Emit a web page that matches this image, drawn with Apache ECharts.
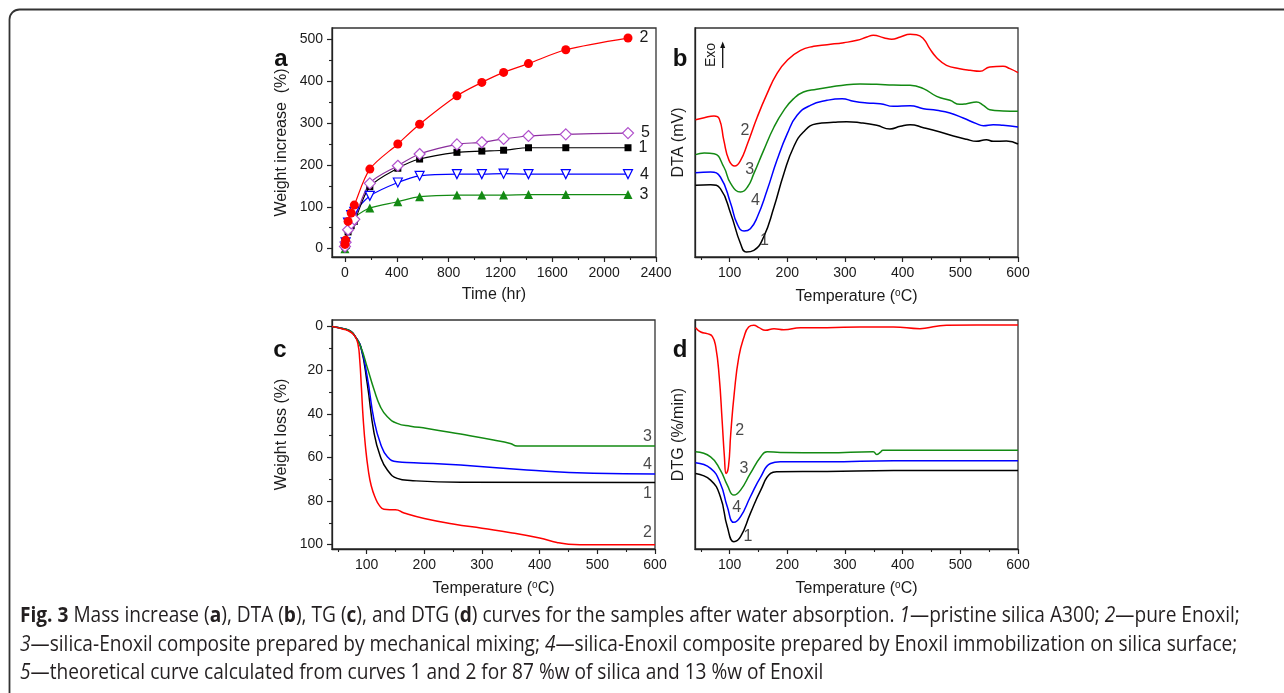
<!DOCTYPE html>
<html><head><meta charset="utf-8">
<script src="https://cdn.jsdelivr.net/npm/echarts@6/dist/echarts.min.js"></script>
<style>html,body{margin:0;padding:0;background:#fff}#c{width:1284px;height:693px}</style>
</head><body><div id="c"></div>
<script>
// ---------- Panel a: weight increase vs time ----------
const timeHr = [0, 5, 24, 48, 72, 192, 408, 576, 864, 1056, 1224, 1416, 1704, 2184];
const wi1 = [5, 15, 40, 55, 65, 148, 192, 214, 230, 233, 235, 241, 241, 241];
const wi2 = [10, 20, 65, 85, 104, 190, 250, 297, 365, 397, 421, 442, 475, 503];
const wi3 = [0, 10, 50, 65, 75, 97, 112, 124, 128, 128, 128, 129, 129, 129];
const wi4 = [5, 15, 62, 80, 88, 126, 158, 174, 178, 178, 179, 178, 178, 178];
const wi5 = [5, 15, 45, 60, 70, 156, 198, 226, 249, 254, 262, 269, 273, 276];
const aXTicks = [0, 400, 800, 1200, 1600, 2000, 2400];
const aYTicks = [0, 100, 200, 300, 400, 500];

// ---------- Panel b: DTA (arbitrary mV) ----------
const dtaT1 = [41, 67, 84, 102, 119, 129, 142, 159, 177, 194, 211, 228, 251, 280, 303, 326, 355, 378, 396, 413, 436, 465, 488, 511, 528, 545, 557, 580, 600];
const dta1 = [2.15, 2.17, 2.05, 1.30, 0.40, 0.15, 0.20, 0.60, 1.50, 2.50, 3.30, 3.75, 4.00, 4.04, 4.06, 4.03, 3.95, 3.84, 3.92, 3.97, 3.88, 3.75, 3.63, 3.53, 3.47, 3.52, 3.47, 3.48, 3.39];
const dtaT2 = [41, 56, 73, 82, 90, 99, 109, 119, 131, 148, 165, 182, 200, 223, 246, 269, 298, 321, 338, 349, 367, 381, 396, 413, 424, 436, 447, 459, 476, 499, 517, 534, 551, 574, 586, 600];
const dta2 = [4.12, 4.18, 4.23, 4.15, 3.50, 2.90, 2.73, 2.90, 3.40, 4.20, 4.90, 5.50, 5.90, 6.20, 6.32, 6.37, 6.43, 6.50, 6.60, 6.65, 6.58, 6.53, 6.60, 6.68, 6.67, 6.55, 6.25, 5.98, 5.75, 5.65, 5.60, 5.57, 5.70, 5.72, 5.65, 5.53];
const dtaT3 = [41, 56, 73, 90, 102, 119, 131, 142, 159, 177, 194, 211, 228, 251, 275, 303, 326, 355, 384, 413, 436, 459, 482, 499, 511, 528, 540, 551, 574, 600];
const dta3 = [3.07, 3.12, 3.10, 2.70, 2.20, 1.95, 2.10, 2.50, 3.20, 3.90, 4.40, 4.75, 4.95, 5.03, 5.10, 5.17, 5.19, 5.18, 5.16, 5.15, 5.05, 4.82, 4.70, 4.58, 4.60, 4.65, 4.55, 4.42, 4.38, 4.37];
const dtaT4 = [41, 67, 84, 102, 113, 125, 136, 148, 165, 182, 200, 217, 240, 269, 295, 315, 338, 361, 384, 413, 436, 459, 482, 505, 528, 540, 557, 574, 600];
const dta4 = [2.53, 2.55, 2.40, 1.60, 1.00, 0.78, 0.85, 1.20, 2.00, 2.90, 3.70, 4.25, 4.55, 4.70, 4.75, 4.67, 4.62, 4.60, 4.52, 4.54, 4.45, 4.40, 4.32, 4.17, 4.00, 3.94, 3.97, 3.95, 3.90];

// ---------- Panel c: TG weight loss (%) ----------
const tgT1 = [40, 60, 72, 80, 90, 101, 113, 124, 136, 153, 176, 263, 600];
const tg1 = [0, 1, 2.1, 4.5, 9.4, 26, 49, 59.7, 65.8, 69.6, 70.6, 71.4, 71.5];
const tgT2 = [40, 60, 72, 80, 85, 88, 91, 94, 98, 103, 108, 115, 122, 130, 140, 150, 165, 200, 250, 300, 350, 400, 430, 450, 470, 600];
const tg2 = [0, 1.2, 2.5, 4.5, 8, 15, 28, 42, 55, 66, 73, 78.5, 82, 83.8, 84, 84, 85.5, 88, 90.5, 92.5, 94.5, 97, 99, 99.8, 100, 100];
const tgT3 = [40, 60, 72, 80, 90, 101, 113, 124, 136, 153, 176, 205, 263, 320, 349, 361, 378, 600];
const tg3 = [0, 1, 2.1, 4.5, 9.4, 18.6, 29, 36.8, 41.4, 44.4, 45.7, 46.7, 49.3, 52, 53.6, 54.8, 54.8, 54.8];
const tgT4 = [40, 60, 72, 80, 90, 101, 113, 124, 136, 153, 182, 263, 378, 493, 600];
const tg4 = [0, 1, 2.1, 4.5, 9.4, 23, 43, 53.6, 59.7, 62, 62.4, 63.5, 65.8, 67.3, 67.6];
const cYTicks = [0, 20, 40, 60, 80, 100];

// ---------- Panel d: DTG (arbitrary %/min) ----------
const dtgT1 = [41, 67, 84, 96, 107.5, 119, 136, 154, 171, 182, 269, 384, 600];
const dtg1 = [2.27, 2.07, 1.57, 0.67, 0.22, 0.37, 1.07, 1.77, 2.27, 2.32, 2.33, 2.36, 2.36];
const dtgT2 = [41, 50, 61, 70, 76, 82, 87, 91, 94, 98, 102, 108, 116, 125, 133, 142, 151, 162, 177, 194, 223, 269, 326, 384, 430, 459, 476, 528, 600];
const dtg2 = [6.65, 6.52, 6.47, 6.39, 6.07, 5.17, 3.87, 2.77, 2.27, 2.47, 3.47, 4.67, 5.77, 6.37, 6.67, 6.72, 6.65, 6.57, 6.62, 6.59, 6.65, 6.65, 6.67, 6.67, 6.62, 6.69, 6.72, 6.73, 6.73];
const dtgT3 = [41, 67, 84, 96, 107.5, 119, 136, 154, 165, 188, 269, 349, 355, 361, 366, 384, 600];
const dtg3 = [2.92, 2.77, 2.37, 1.92, 1.62, 1.77, 2.27, 2.77, 2.92, 2.90, 2.89, 2.92, 2.84, 2.90, 2.97, 2.97, 2.97];
const dtgT4 = [41, 67, 84, 96, 107.5, 119, 136, 154, 171, 188, 269, 384, 600];
const dtg4 = [2.59, 2.42, 1.97, 1.27, 0.80, 0.97, 1.57, 2.17, 2.57, 2.62, 2.62, 2.65, 2.65];

const tempTicks = [100, 200, 300, 400, 500, 600];
const tempMinor = [50, 150, 250, 350, 450, 550];

// curve number labels (data coordinates of each annotation)
const bLabels = [['2', 126.5, 3.8], ['3', 135, 2.62], ['4', 144.8, 1.7], ['1', 160.4, 0.5]];
const cLabels = [['3', 587, 50.5], ['4', 587, 63.5], ['1', 587, 76.7], ['2', 587, 94.7]];
const dLabels = [['2', 117.3, 3.57], ['3', 124.8, 2.42], ['4', 112.1, 1.24], ['1', 131.7, 0.37]];

const RED = '#ff0000', GREEN = '#138a13', BLUE = '#0000ff', BLACK = '#000000', PURPLE = '#8a2e9c', PINK = '#b050cc';
const FONT = 'Liberation Sans, Arial, sans-serif';
const TXT = '#1a1a1a';

const grids = [
  {left: 332, top: 28, width: 324, height: 229},
  {left: 695, top: 28, width: 323, height: 229},
  {left: 332, top: 320, width: 323, height: 229},
  {left: 695, top: 320, width: 323, height: 229}
].map(g => Object.assign(g, {show: true, borderColor: '#333', borderWidth: 1.3, containLabel: false}));

const xAxes = [], yAxes = [];
function mainAxis(arr, gi, pos, o) {
  arr.push(Object.assign({
    type: 'value', gridIndex: gi, position: pos, splitLine: {show: false},
    axisLine: {show: true, onZero: false, lineStyle: {color: '#222', width: 1.3}},
    axisTick: {show: true, inside: false, length: 5, lineStyle: {color: '#222', width: 1.2}, customValues: o.ticks},
    axisLabel: {show: !!o.ticks, customValues: o.ticks, formatter: v => String(v), color: TXT, fontSize: 14, fontFamily: FONT, margin: 9},
    nameTextStyle: {color: TXT, fontSize: 16, fontFamily: FONT, rich: {sup: {fontSize: 10, verticalAlign: 'top', padding: [0, 0, 8, 0], color: TXT, fontFamily: FONT}}}
  }, o.extra));
  return arr.length - 1;
}
function minorAxis(arr, gi, pos, min, max, vals, extra) {
  arr.push(Object.assign({
    type: 'value', gridIndex: gi, position: pos, offset: 0, min, max, splitLine: {show: false},
    axisLine: {show: false, onZero: false},
    axisTick: {show: true, length: 3, lineStyle: {color: '#222', width: 1.1}, customValues: vals},
    axisLabel: {show: false}
  }, extra || {}));
}

// Panel a axes
const ax0 = mainAxis(xAxes, 0, 'bottom', {ticks: aXTicks, extra: {min: -100, max: 2400, name: 'Time (hr)', nameLocation: 'middle', nameGap: 30}});
minorAxis(xAxes, 0, 'bottom', -100, 2400, [200, 600, 1000, 1400, 1800, 2200]);
const ay0 = mainAxis(yAxes, 0, 'left', {ticks: aYTicks, extra: {min: -20, max: 527, name: 'Weight increase  (%)', nameLocation: 'middle', nameGap: 42}});
minorAxis(yAxes, 0, 'left', -20, 527, [50, 150, 250, 350, 450]);
// Panel b axes
const ax1 = mainAxis(xAxes, 1, 'bottom', {ticks: tempTicks, extra: {min: 40, max: 600, name: 'Temperature ({sup|o}C)', nameLocation: 'middle', nameGap: 31}});
minorAxis(xAxes, 1, 'bottom', 40, 600, tempMinor);
const ay1 = mainAxis(yAxes, 1, 'left', {ticks: null, extra: {min: 0, max: 6.87, axisTick: {show: false}, axisLabel: {show: false}, name: 'DTA (mV)', nameLocation: 'middle', nameGap: 8}});
// Panel c axes
const ax2 = mainAxis(xAxes, 2, 'bottom', {ticks: tempTicks, extra: {min: 40, max: 600, name: 'Temperature ({sup|o}C)', nameLocation: 'middle', nameGap: 31}});
minorAxis(xAxes, 2, 'bottom', 40, 600, tempMinor);
const ay2 = mainAxis(yAxes, 2, 'left', {ticks: cYTicks, extra: {min: -3, max: 102, inverse: true, name: 'Weight loss (%)', nameLocation: 'middle', nameGap: 42}});
minorAxis(yAxes, 2, 'left', -3, 102, [10, 30, 50, 70, 90], {inverse: true});
// Panel d axes
const ax3 = mainAxis(xAxes, 3, 'bottom', {ticks: tempTicks, extra: {min: 40, max: 600, name: 'Temperature ({sup|o}C)', nameLocation: 'middle', nameGap: 31}});
minorAxis(xAxes, 3, 'bottom', 40, 600, tempMinor);
const ay3 = mainAxis(yAxes, 3, 'left', {ticks: null, extra: {min: 0, max: 6.88, axisTick: {show: false}, axisLabel: {show: false}, name: 'DTG (%/min)', nameLocation: 'middle', nameGap: 8}});

const zip = (xs, ys) => xs.map((x, i) => [x, ys[i]]);
const series = [];

function aSeries(vals, color, symbol, opts, label) {
  const data = zip(timeHr, vals);
  const last = data.length - 1;
  data[last] = {value: data[last], label: {show: true, formatter: label, position: 'right', distance: 7, color: TXT, fontSize: 16, fontFamily: FONT}};
  series.push(Object.assign({
    type: 'line', xAxisIndex: ax0, yAxisIndex: ay0, data, smooth: 0.3,
    symbol, symbolSize: 8, showAllSymbol: true,
    lineStyle: {color, width: 1.2}, itemStyle: {color}, z: 3, label: {show: false}
  }, opts));
}
aSeries(wi3, GREEN, 'triangle', {symbolSize: 9}, '3');
aSeries(wi4, BLUE, 'triangle', {symbolSize: 9, symbolRotate: 180, itemStyle: {color: '#fff', borderColor: BLUE, borderWidth: 1.2}}, '4');
aSeries(wi1, BLACK, 'rect', {symbolSize: 7}, '1');
aSeries(wi5, PURPLE, 'diamond', {symbolSize: 11, itemStyle: {color: '#fff', borderColor: PINK, borderWidth: 1.2}}, '5');
aSeries(wi2, RED, 'circle', {symbolSize: 9}, '2');

function curve(xi, yi, xs, ys, color) {
  series.push({type: 'line', xAxisIndex: xi, yAxisIndex: yi, data: zip(xs, ys), smooth: 0.5,
    symbol: 'none', lineStyle: {color, width: 1.5}, z: 3});
}
function labels(xi, yi, arr) {
  series.push({type: 'scatter', xAxisIndex: xi, yAxisIndex: yi, symbolSize: 0, silent: true, z: 5,
    data: arr.map(l => ({name: l[0], value: [l[1], l[2]]})),
    label: {show: true, position: 'inside', formatter: '{b}', color: TXT, fontSize: 16, fontFamily: FONT}});
}
curve(ax1, ay1, dtaT1, dta1, BLACK);
curve(ax1, ay1, dtaT4, dta4, BLUE);
curve(ax1, ay1, dtaT3, dta3, GREEN);
curve(ax1, ay1, dtaT2, dta2, RED);
labels(ax1, ay1, bLabels);
curve(ax2, ay2, tgT1, tg1, BLACK);
curve(ax2, ay2, tgT4, tg4, BLUE);
curve(ax2, ay2, tgT3, tg3, GREEN);
curve(ax2, ay2, tgT2, tg2, RED);
labels(ax2, ay2, cLabels);
curve(ax3, ay3, dtgT1, dtg1, BLACK);
curve(ax3, ay3, dtgT4, dtg4, BLUE);
curve(ax3, ay3, dtgT3, dtg3, GREEN);
curve(ax3, ay3, dtgT2, dtg2, RED);
labels(ax3, ay3, dLabels);

const capFont = 'Open Sans, Noto Sans, sans-serif';
const CAP = 21;
const capRich = {b: {fontWeight: 'bold', fontSize: CAP, fontFamily: capFont, fill: '#231f20'}, i: {fontStyle: 'italic', fontSize: CAP, fontFamily: capFont, fill: '#231f20'}};
function capLine(text, y) {
  return {type: 'text', x: 20, y, scaleX: 0.91, originX: 0, originY: 0,
    style: {text, rich: capRich, fontSize: CAP, fontFamily: capFont, fill: '#231f20', verticalAlign: 'middle', align: 'left'}};
}
function letter(t, x, y) {
  return {type: 'text', x, y, style: {text: t, fontSize: 24, fontWeight: 'bold', fontFamily: FONT, fill: '#111', verticalAlign: 'alphabetic', align: 'center'}};
}

const graphic = [
  {type: 'rect', shape: {x: 9.5, y: 9.5, width: 1500, height: 900, r: 10}, style: {fill: 'none', stroke: '#333', lineWidth: 1.8}, silent: true},
  letter('a', 281, 47), letter('b', 680, 47), letter('c', 280, 338), letter('d', 680, 338),
  {type: 'text', x: 711.5, y: 55, rotation: Math.PI / 2, style: {text: 'Exo', fontSize: 14, fontFamily: FONT, fill: TXT, align: 'center', verticalAlign: 'middle'}},
  {type: 'line', shape: {x1: 722.7, y1: 68, x2: 722.7, y2: 46}, style: {stroke: '#111', lineWidth: 1.3}},
  {type: 'polygon', shape: {points: [[722.7, 41.5], [720.2, 48], [725.2, 48]]}, style: {fill: '#111'}},
  capLine('{b|Fig. 3} Mass increase ({b|a}), DTA ({b|b}), TG ({b|c}), and DTG ({b|d}) curves for the samples after water absorption. {i|1}—pristine silica A300; {i|2}—pure Enoxil;', 616),
  capLine('{i|3}—silica-Enoxil composite prepared by mechanical mixing; {i|4}—silica-Enoxil composite prepared by Enoxil immobilization on silica surface;', 645),
  capLine('{i|5}—theoretical curve calculated from curves 1 and 2 for 87 %w of silica and 13 %w of Enoxil', 673.5)
];

const chart = echarts.init(document.getElementById('c'), null, {renderer: 'canvas'});
chart.setOption({backgroundColor: '#fff', animation: false, grid: grids, xAxis: xAxes, yAxis: yAxes, series, graphic});
</script></body></html>
